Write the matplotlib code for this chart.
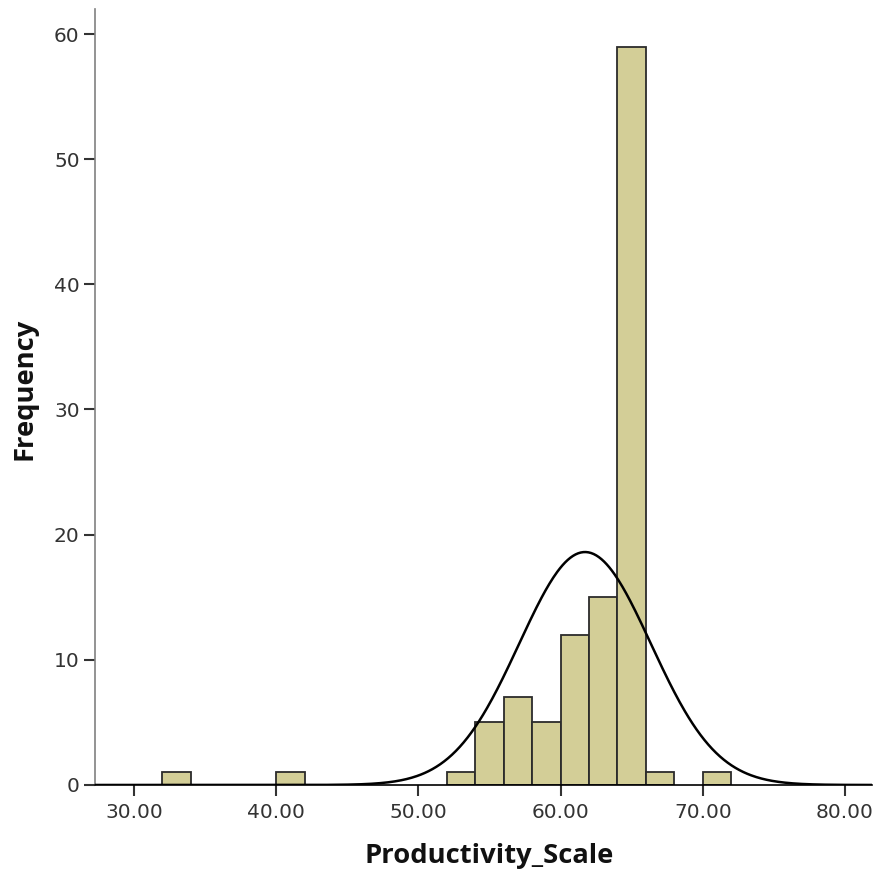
import numpy as np
import matplotlib.pyplot as plt

# histogram bins (left edges, width 2) and counts
bin_left = [32, 40, 52, 54, 56, 58, 60, 62, 64, 66, 70]
counts = [1, 1, 1, 5, 7, 5, 12, 15, 59, 1, 1]
bin_width = 2

# fitted normal curve parameters
mean = 61.72
std = 4.63
n_total = sum(counts)

xticks = [30, 40, 50, 60, 70, 80]
yticks = [0, 10, 20, 30, 40, 50, 60]

fig = plt.figure(figsize=(8.74, 8.72), dpi=100)
ax = fig.add_axes([0.1087, 0.0998, 0.889, 0.8899])

ax.bar(bin_left, counts, width=bin_width, align='edge',
       color='#d3ce97', edgecolor='#2b2b2b', linewidth=1.3, zorder=2)

xs = np.linspace(27.2, 82, 600)
pdf = n_total * bin_width / (std * np.sqrt(2 * np.pi)) * np.exp(-0.5 * ((xs - mean) / std) ** 2)
ax.plot(xs, pdf, color='black', linewidth=1.8, zorder=3)

ax.set_xlim(27.26, 81.9)
ax.set_ylim(0, 62.0)
ax.set_xticks(xticks)
ax.set_xticklabels(['%.2f' % t for t in xticks])
ax.set_yticks(yticks)

for s in ['top', 'right']:
    ax.spines[s].set_visible(False)
ax.spines['left'].set_color('#808080')
ax.spines['left'].set_linewidth(1.2)
ax.spines['bottom'].set_color('black')
ax.spines['bottom'].set_linewidth(1.2)
ax.spines['bottom'].set_zorder(4)

ax.tick_params(axis='both', direction='out', length=8, width=1.5,
               colors='#333333', labelsize=14.5, labelcolor='#333333')
ax.tick_params(axis='x', pad=5)
ax.tick_params(axis='y', pad=3)

ax.set_xlabel('Productivity_Scale', fontsize=19.7, fontweight='bold',
              family='Open Sans', color='#111111')
ax.set_ylabel('Frequency', fontsize=19.7, fontweight='bold',
              family='Open Sans', color='#111111')
ax.xaxis.set_label_coords(0.507, -0.075)
ax.yaxis.set_label_coords(-0.0735, 0.51)

fig.savefig('out.png', dpi=100)
